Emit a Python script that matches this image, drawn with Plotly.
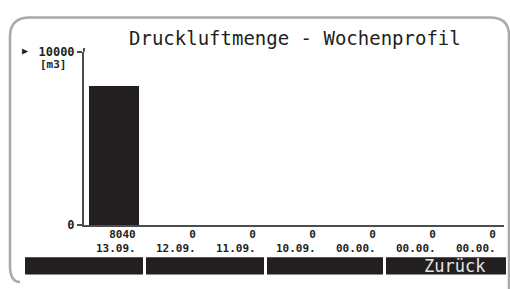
import plotly.graph_objects as go

# ---- data ----
dates = ["13.09.", "12.09.", "11.09.", "10.09.", "00.00.", "00.00.", "00.00."]
values = [8040, 0, 0, 0, 0, 0, 0]
y_ticks = [0, 10000]
y_ticktext = ["0", "10000"]
title = "Druckluftmenge - Wochenprofil"
unit = "[m3]"
soft_keys = ["", "", "", "Zurück"]

W, H = 510, 289
def px(x):
    return x / W
def py(y):
    return 1 - y / H

INK = "#231f20"
FONT = "DejaVu Sans Mono"

xs = list(range(len(values)))

fig = go.Figure()
fig.add_trace(go.Bar(
    x=xs, y=values, width=0.82,
    marker=dict(color=INK, line=dict(width=0)),
    hoverinfo="skip",
))

annotations = []
for i, (d, v) in enumerate(zip(dates, values)):
    annotations.append(dict(
        x=i + 0.39, y=py(246), xref="x", yref="paper",
        text=f"<b>{v}</b><br><b>{d}</b>", showarrow=False, align="right",
        xanchor="right", yanchor="middle", borderpad=0,
        font=dict(family=FONT, size=11, color=INK),
    ))

annotations.append(dict(
    x=px(295), y=py(33), xref="paper", yref="paper", text=title, showarrow=False,
    xanchor="center", yanchor="middle", font=dict(family=FONT, size=19, color=INK),
))
annotations.append(dict(
    x=px(68), y=py(60.5), xref="paper", yref="paper", text=f"<b>{unit}</b>", showarrow=False,
    xanchor="right", yanchor="middle", borderpad=0,
    font=dict(family=FONT, size=11, color=INK),
))
annotations.append(dict(
    x=px(25), y=py(46), xref="paper", yref="paper", text="▶", showarrow=False,
    xanchor="center", yanchor="middle", font=dict(family=FONT, size=10, color=INK),
))

shapes = []
# device frame
frame = (f"M {px(20)},{py(289)} Q {px(10)},{py(289)} {px(10)},{py(272)} "
         f"L {px(10)},{py(31)} Q {px(10)},{py(11)} {px(30)},{py(11)} "
         f"L {px(490)},{py(11)} Q {px(509)},{py(11)} {px(509)},{py(30)} L {px(509)},{py(300)}")
shapes.append(dict(type="path", path=frame, xref="paper", yref="paper",
                   line=dict(color="#a7a9ac", width=2.5)))
# y axis extends slightly above top tick
shapes.append(dict(type="line", xref="paper", yref="paper",
                   x0=px(84), x1=px(84), y0=py(47), y1=py(43),
                   line=dict(color="#4d4d4f", width=2)))
# soft-key bar
segs = [(25, 143), (146, 264), (267, 383), (386, 506)]
label_x = [84, 205, 325, 454]
for (x0, x1), lx, label in zip(segs, label_x, soft_keys):
    shapes.append(dict(type="rect", xref="paper", yref="paper",
                       x0=px(x0), x1=px(x1), y0=py(281), y1=py(263),
                       fillcolor=INK, line=dict(width=0), layer="above"))
    if label:
        annotations.append(dict(
            x=px(lx), y=py(272.5), xref="paper", yref="paper", text=label,
            showarrow=False, xanchor="center", yanchor="middle", borderpad=0,
            font=dict(family=FONT, size=17, color="#e6e6e6"),
        ))

fig.update_layout(
    width=W, height=H,
    margin=dict(l=0, r=0, t=0, b=0),
    paper_bgcolor="white", plot_bgcolor="white",
    showlegend=False,
    bargap=0,
    xaxis=dict(domain=[px(84), px(504)], range=[-0.5, len(values) - 0.5],
               showticklabels=False, ticks="", showgrid=False, zeroline=False,
               showline=True, linecolor="#4d4d4f", linewidth=2, fixedrange=True),
    yaxis=dict(domain=[py(229), py(47)], range=[0, 10000],
               tickvals=y_ticks, ticktext=[f"<b>{t}</b>" for t in y_ticktext],
               tickfont=dict(family=FONT, size=12, color=INK),
               ticks="outside", ticklen=5, tickcolor="#4d4d4f", tickwidth=1.5,
               showgrid=False, zeroline=False, showline=True,
               linecolor="#4d4d4f", linewidth=2, fixedrange=True),
    annotations=annotations,
    shapes=shapes,
)

fig.write_html("out.html", config={"displayModeBar": False},
               post_script="document.body.style.margin='0';document.body.style.overflow='hidden';")
